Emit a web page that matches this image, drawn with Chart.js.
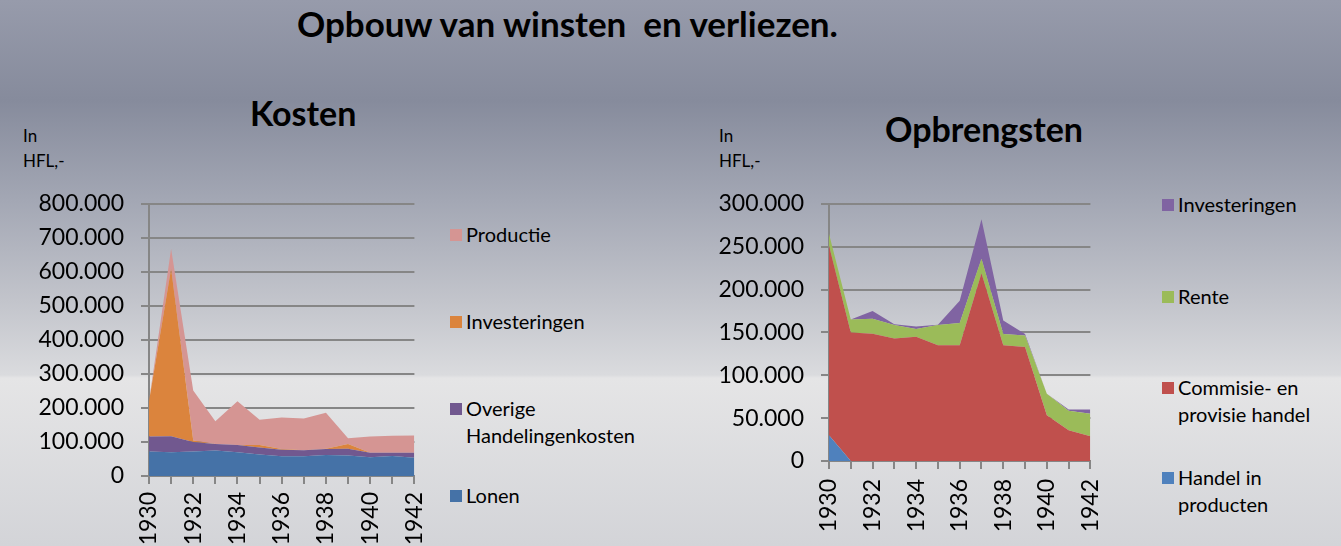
<!DOCTYPE html>
<html>
<head>
<meta charset="utf-8">
<script src="https://cdn.jsdelivr.net/npm/chart.js@4"></script>
<style>
  html, body {
    margin: 0;
    padding: 0;
  }
  body {
    width: 1341px;
    height: 546px;
    overflow: hidden;
    position: relative;
    font-family: Lato, "Open Sans", sans-serif;
    color: #000;
    background: linear-gradient(to bottom,
      #979bab 0px, #868b9c 100px, #a3a7b4 200px, #c2c4cb 300px,
      #dadbde 375px, #e5e5e6 378px, #d3d4d8 546px);
  }
  .abs { position: absolute; }
  .title { font-weight: bold; line-height: 1; white-space: pre; }
  .unit { font-size: 17px; line-height: 25px; }
  .item { position: absolute; display: flex; align-items: flex-start; font-size: 20px; line-height: 27px; }
  .sq { width: 12px; height: 12px; margin-top: 8px; margin-right: 4px; flex: none; }
  canvas { position: absolute; }
</style>
</head>
<body>
<div class="abs title" style="left:297px; top:6px; font-size:35px;">Opbouw van winsten  en verliezen.</div>
<div class="abs title" style="left:250px; top:96px; font-size:34px;">Kosten</div>
<div class="abs title" style="left:885px; top:112px; font-size:34px;">Opbrengsten</div>
<div class="abs unit" style="left:23px; top:123px;">In<br>HFL,-</div>
<div class="abs unit" style="left:719px; top:123px;">In<br>HFL,-</div>

<canvas id="kosten" width="450" height="373" style="left:0; top:173px;"></canvas>
<canvas id="opbrengsten" width="438" height="373" style="left:690px; top:173px;"></canvas>

<div id="legendKosten"></div>
<div id="legendOpbrengsten"></div>

<script>
const years = ["1930", "1931", "1932", "1933", "1934", "1935", "1936", "1937", "1938", "1939", "1940", "1941", "1942"];

// Kosten (stacked, bottom to top)
const lonen = [72000, 70000, 72000, 75000, 70000, 63000, 58000, 58000, 62000, 60000, 55000, 59000, 54000];
const overige = [44000, 47000, 28000, 19000, 21000, 21000, 19000, 18000, 17000, 20000, 13000, 9000, 14000];
const investKosten = [104000, 492000, 4000, 0, 0, 7000, 2000, 0, 1000, 14000, 0, 0, 0];
const productie = [0, 59000, 147000, 67000, 129000, 74000, 93000, 93000, 106000, 17000, 48000, 50000, 51000];

// Opbrengsten (stacked, bottom to top)
const handel = [30000, 0, 0, 0, 0, 0, 0, 0, 0, 0, 0, 0, 0];
const commisie = [221000, 150000, 148500, 143000, 145000, 135000, 135000, 219000, 135000, 133000, 53500, 36000, 29000];
const rente = [14000, 15000, 17500, 15500, 9000, 23500, 26000, 17000, 13000, 13500, 25000, 22500, 26000];
const investOpbr = [0, 0, 9000, 1000, 3000, 500, 26000, 46000, 16000, 1500, 0, 1500, 5000];

const kostenSeries = [
  { label: "Lonen", data: lonen, color: "#4572A7" },
  { label: "Overige Handelingenkosten", data: overige, color: "#71588F" },
  { label: "Investeringen", data: investKosten, color: "#DB843D" },
  { label: "Productie", data: productie, color: "#D59593" },
];
const opbrSeries = [
  { label: "Handel in producten", data: handel, color: "#4F81BD" },
  { label: "Commisie- en provisie handel", data: commisie, color: "#C0504D" },
  { label: "Rente", data: rente, color: "#9BBB59" },
  { label: "Investeringen", data: investOpbr, color: "#8064A2" },
];

const axisGray = "#868686";
const tickFont = { family: "Lato", size: 23 };

function dots(v) {
  return String(v).replace(/\B(?=(\d{3})+(?!\d))/g, ".");
}

function makeChart(id, series, max, step, yWidth, xHeight, padRight, xPad) {
  return new Chart(document.getElementById(id), {
    type: "line",
    data: {
      labels: years,
      datasets: series.map((s, i) => ({
        label: s.label,
        data: s.data,
        backgroundColor: s.color,
        borderColor: s.color,
        borderWidth: 0,
        pointRadius: 0,
        tension: 0,
        fill: i === 0 ? "origin" : "-1",
      })),
    },
    options: {
      responsive: false,
      animation: false,
      layout: { padding: { top: 13, right: padRight } },
      plugins: {
        legend: { display: false },
        tooltip: { enabled: false },
      },
      scales: {
        x: {
          grid: {
            display: true,
            drawOnChartArea: false,
            drawTicks: true,
            tickLength: 8,
            color: axisGray,
            lineWidth: 2,
          },
          border: { display: true, color: axisGray, width: 2 },
          ticks: {
            autoSkip: false,
            maxRotation: 90,
            minRotation: 90,
            padding: xPad,
            color: "#000",
            font: tickFont,
            callback: (v, i) => (i % 2 === 0 ? years[i] : ""),
          },
          afterFit: (scale) => { scale.height = xHeight; },
        },
        y: {
          stacked: true,
          min: 0,
          max: max,
          grid: {
            color: axisGray,
            lineWidth: 2,
            tickLength: 8,
          },
          border: { display: true, color: axisGray, width: 2 },
          ticks: {
            stepSize: step,
            padding: 17,
            color: "#000",
            font: tickFont,
            callback: (v) => dots(v),
          },
          afterFit: (scale) => { scale.width = yWidth; },
        },
      },
    },
  });
}

makeChart("kosten", kostenSeries, 800000, 100000, 149, 70, 17, 8);
makeChart("opbrengsten", opbrSeries, 300000, 50000, 139, 85, 21, 10);

// legends, top item first (reverse of stacking order)
function makeLegend(id, series, left, tops) {
  const box = document.getElementById(id);
  series.slice().reverse().forEach((s, i) => {
    const item = document.createElement("div");
    item.className = "item";
    item.style.left = left + "px";
    item.style.top = (tops[i] - 8) + "px";
    const sq = document.createElement("div");
    sq.className = "sq";
    sq.style.background = s.color;
    const txt = document.createElement("div");
    txt.innerHTML = s.text || s.label;
    item.appendChild(sq);
    item.appendChild(txt);
    box.appendChild(item);
  });
}

kostenSeries[1].text = "Overige<br>Handelingenkosten";
opbrSeries[0].text = "Handel in<br>producten";
opbrSeries[1].text = "Commisie- en<br>provisie handel";

makeLegend("legendKosten", kostenSeries, 450, [229, 316, 403, 490]);
makeLegend("legendOpbrengsten", opbrSeries, 1162, [199, 291, 382, 472]);
</script>
</body>
</html>
